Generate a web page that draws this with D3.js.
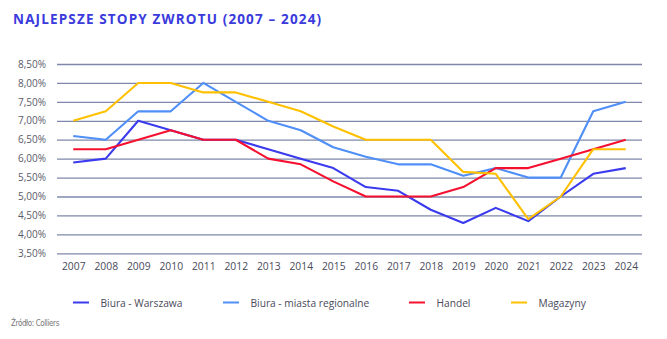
<!DOCTYPE html>
<html><head><meta charset="utf-8">
<script src="https://cdn.jsdelivr.net/npm/d3@7"></script>
<style>
body{margin:0;background:#fff;}
svg{display:block;font-family:"Open Sans",sans-serif;}
</style></head>
<body><svg id="c" width="667" height="339"></svg>
<script>
const years = ["2007","2008","2009","2010","2011","2012","2013","2014","2015","2016","2017","2018","2019","2020","2021","2022","2023","2024"];
const biuraWarszawa = [5.9,6.0,7.0,6.75,6.5,6.5,6.25,6.0,5.75,5.25,5.15,4.65,4.3,4.7,4.35,5.0,5.6,5.75];
const biuraRegionalne = [6.6,6.5,7.25,7.25,8.0,7.5,7.0,6.75,6.3,6.05,5.85,5.85,5.55,5.75,5.5,5.5,7.25,7.5];
const handel = [6.25,6.25,6.5,6.75,6.5,6.5,6.0,5.85,5.4,5.0,5.0,5.0,5.25,5.75,5.75,6.0,6.25,6.5];
const magazyny = [7.0,7.25,8.0,8.0,7.75,7.75,7.5,7.25,6.85,6.5,6.5,6.5,5.65,5.6,4.4,5.0,6.25,6.25];
const yTicks = [3.5,4.0,4.5,5.0,5.5,6.0,6.5,7.0,7.5,8.0,8.5];
const seriesNames = ["Biura - Warszawa","Biura - miasta regionalne","Handel","Magazyny"];
const seriesColors = ["#3a3aee","#4f8ff7","#f5102f","#ffc000"];

const series = [biuraWarszawa, biuraRegionalne, handel, magazyny].map((v,i)=>({name:seriesNames[i], color:seriesColors[i], values:v}));

const svg = d3.select("#c");
const x = d3.scalePoint().domain(years).range([57,642]).padding(0.5);
const y = d3.scaleLinear().domain([3.5,8.5]).range([253.3,64]);

// title
svg.append("text").attr("x",13).attr("y",24)
  .attr("font-size",13.5).attr("font-weight",700).attr("letter-spacing",1.15)
  .attr("fill","#3a3add").text("NAJLEPSZE STOPY ZWROTU (2007 – 2024)");

// gridlines
const yAxis = d3.axisLeft(y).tickValues(yTicks).tickSize(-(642-57)).tickPadding(11)
  .tickFormat(d=>d3.format(".2f")(d).replace(".",",")+"%");
const gy = svg.append("g").attr("transform","translate(57,0)").call(yAxis);
gy.select(".domain").remove();
gy.selectAll(".tick line").attr("stroke","#7f88aa").attr("stroke-width",1.3);
gy.selectAll(".tick text").attr("font-size",10).attr("fill","#5a5a6a").attr("font-family","Open Sans, sans-serif");

const xAxis = d3.axisBottom(x).tickSize(0).tickPadding(9);
const gx = svg.append("g").attr("transform","translate(0,253.3)").call(xAxis);
gx.select(".domain").remove();
gx.selectAll(".tick text").attr("font-size",10.3).attr("fill","#4a4a5a").attr("font-family","Open Sans, sans-serif");

const line = d3.line().x((d,i)=>x(years[i])).y(d=>y(d));
svg.append("g").selectAll("path").data(series).join("path")
  .attr("d",d=>line(d.values)).attr("fill","none")
  .attr("stroke",d=>d.color).attr("stroke-width",2.1).attr("stroke-linejoin","round");

// legend
const legendX = [73,223,409,511];
const lg = svg.append("g").selectAll("g").data(series).join("g")
  .attr("transform",(d,i)=>`translate(${legendX[i]},302.5)`);
lg.append("line").attr("x1",0).attr("x2",16).attr("y1",0).attr("y2",0)
  .attr("stroke",d=>d.color).attr("stroke-width",2);
lg.append("text").attr("x",27.5).attr("y",4).attr("font-size",10.2).attr("fill","#4a4a5a").text(d=>d.name);

svg.append("text").attr("x",11).attr("y",326).attr("font-size",8)
  .attr("font-family","DejaVu Sans Condensed, Liberation Sans Narrow, sans-serif")
  .attr("fill","#777").attr("letter-spacing",-0.4).text("Źródło: Colliers");
</script></body></html>
